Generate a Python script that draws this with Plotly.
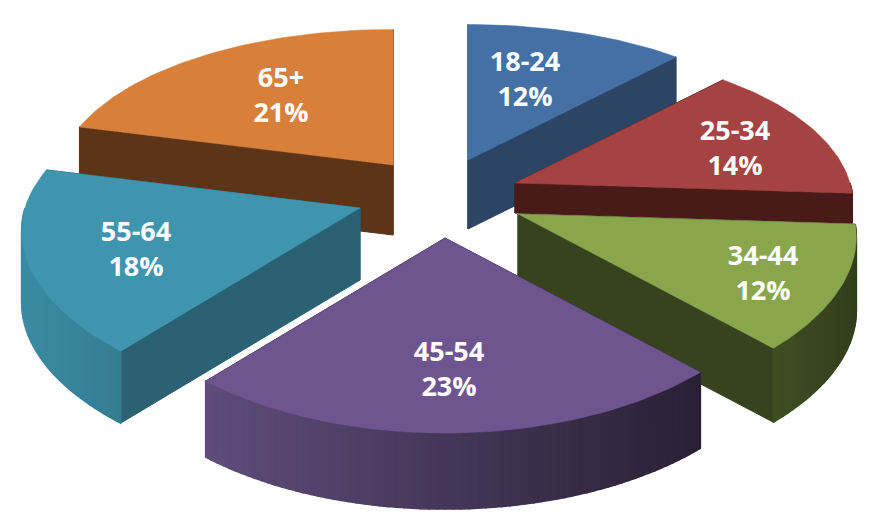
import math
import plotly.graph_objects as go

age_groups = ["18-24", "25-34", "34-44", "45-54", "55-64", "65+"]
shares = [12, 14, 12, 23, 18, 21]

# exploded apex of each wedge, its thickness, and label anchor (in the 880x529 frame)
apex = [(468, 160), (515, 183), (518, 214), (445, 238), (360, 208), (393, 165)]
thick = [69, 30, 74, 76, 72, 70]
label_at = [(525, 82), (735, 151), (763, 276), (449, 372), (136, 252), (281, 98)]
top_col = ["#4570a6", "#a44341", "#8aa64c", "#6f558f", "#3f94ae", "#d8803a"]
wall_col = ["#2c4565", "#481a18", "#37431f", "#30243f", "#2b6172", "#5c3417"]
rim_a = ["#3a5f8c", "#6e2c2a", "#3f4f22", "#5f4c7a", "#3b8ba4", "#8a5020"]
rim_b = ["#2c4565", "#481a18", "#333e1c", "#2a2035", "#347d93", "#5c3417"]
draw_order = [5, 0, 1, 4, 2, 3]

RX, RY, PERSP_X, PERSP_Y = 335, 160, 0.14, 0.18


def project(c, a, depth=0.0):
    X, Y = math.sin(a), math.cos(a)
    return (c[0] + RX * X / (1 + PERSP_X * Y),
            c[1] - RY * Y / (1 + PERSP_Y * Y) + depth)


def mix(c1, c2, t):
    p = [int(c1[i:i + 2], 16) for i in (1, 3, 5)]
    q = [int(c2[i:i + 2], 16) for i in (1, 3, 5)]
    return "#%02x%02x%02x" % tuple(round(u + (v - u) * t) for u, v in zip(p, q))


fig = go.Figure()


def poly(pts, color, w=1.0):
    fig.add_trace(go.Scatter(
        x=[p[0] for p in pts] + [pts[0][0]], y=[p[1] for p in pts] + [pts[0][1]],
        mode="lines", fill="toself", fillcolor=color,
        line=dict(color=color, width=w), hoverinfo="skip", showlegend=False))


edges = [0]
for v in shares:
    edges.append(edges[-1] + v)
total = edges[-1]

for i in draw_order:
    a0 = 2 * math.pi * edges[i] / total
    a1 = 2 * math.pi * edges[i + 1] / total
    c, d = apex[i], thick[i]
    steps = max(16, shares[i] * 3)
    angles = [a0 + (a1 - a0) * k / steps for k in range(steps + 1)]
    # radial walls first; the top face hides whichever one faces away
    for a in (a0, a1):
        poly([(c[0], c[1]), project(c, a), project(c, a, d), (c[0], c[1] + d)], wall_col[i])
    # outer rim, only where it faces the viewer, shaded left to right
    xs = [project(c, a)[0] for a in angles]
    lo, hi = min(xs), max(xs)
    for k in range(steps):
        if math.cos((angles[k] + angles[k + 1]) / 2) >= 0:
            continue
        mid = (xs[k] + xs[k + 1]) / 2
        t = (mid - lo) / (hi - lo)
        poly([project(c, angles[k]), project(c, angles[k + 1]),
              project(c, angles[k + 1], d), project(c, angles[k], d)],
             mix(rim_a[i], rim_b[i], t), 1.5)
    poly([c] + [project(c, a) for a in angles], top_col[i], 0.5)

fig.add_trace(go.Scatter(
    x=[p[0] for p in label_at], y=[p[1] for p in label_at], mode="text",
    text=[f"{g}<br>{v}%" for g, v in zip(age_groups, shares)],
    textposition="middle center",
    textfont=dict(family="Open Sans", size=27, color="white", weight=700),
    hoverinfo="skip", showlegend=False))

# the page adds an 8 px body margin, so the frame starts at 8
fig.update_layout(
    width=880, height=529, margin=dict(l=0, r=0, t=0, b=0),
    paper_bgcolor="white", plot_bgcolor="white", showlegend=False,
    xaxis=dict(range=[8, 888], visible=False, fixedrange=True),
    yaxis=dict(range=[537, 8], visible=False, fixedrange=True))
fig.write_html("out.html", config={"displayModeBar": False})
